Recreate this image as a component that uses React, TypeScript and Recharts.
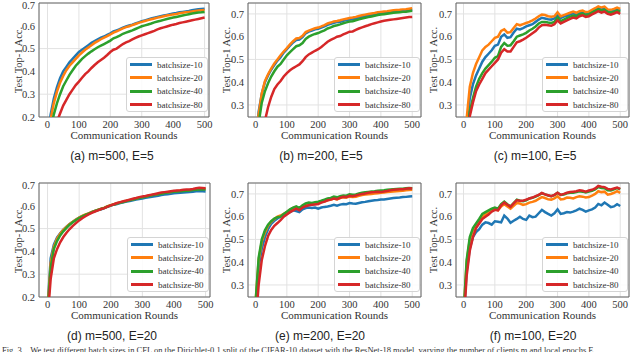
import {
  LineChart,
  Line,
  XAxis,
  YAxis,
  CartesianGrid,
  ReferenceArea,
  Legend,
} from "recharts";

// communication rounds sampled every 10
const ROUNDS = [
  0, 10, 20, 30, 40, 50, 60, 70, 80, 90,
  100, 110, 120, 130, 140, 150, 160, 170, 180, 190,
  200, 210, 220, 230, 240, 250, 260, 270, 280, 290,
  300, 310, 320, 330, 340, 350, 360, 370, 380, 390,
  400, 410, 420, 430, 440, 450, 460, 470, 480, 490,
  500,
];

const SERIES = ["batchsize-10", "batchsize-20", "batchsize-40", "batchsize-80"];
const COLORS = ["#1f77b4", "#ff7f0e", "#2ca02c", "#d62728"];
const X_TICKS = [0, 100, 200, 300, 400, 500];
const Y_TICKS_A = [0.2, 0.3, 0.4, 0.5, 0.6, 0.7];
const Y_TICKS_B = [0.3, 0.4, 0.5, 0.6, 0.7];

// (a) m=500, E=5
const a10 = [
  0.10, 0.21, 0.28, 0.33, 0.37, 0.40, 0.42, 0.44, 0.455, 0.47,
  0.485, 0.495, 0.505, 0.515, 0.525, 0.533, 0.541, 0.548, 0.553, 0.56,
  0.567, 0.575, 0.58, 0.585, 0.592, 0.597, 0.601, 0.605, 0.61, 0.615,
  0.62, 0.624, 0.628, 0.632, 0.636, 0.639, 0.642, 0.645, 0.648, 0.651,
  0.654, 0.656, 0.659, 0.661, 0.663, 0.665, 0.668, 0.671, 0.673, 0.674,
  0.675,
];
const a20 = [
  0.09, 0.19, 0.26, 0.31, 0.35, 0.38, 0.405, 0.425, 0.44, 0.455,
  0.47, 0.483, 0.495, 0.505, 0.515, 0.525, 0.533, 0.541, 0.548, 0.555,
  0.562, 0.57, 0.576, 0.582, 0.589, 0.594, 0.598, 0.603, 0.608, 0.613,
  0.617, 0.621, 0.625, 0.629, 0.632, 0.636, 0.639, 0.642, 0.645, 0.647,
  0.65, 0.652, 0.655, 0.657, 0.659, 0.661, 0.663, 0.665, 0.667, 0.668,
  0.669,
];
const a40 = [
  0.07, 0.15, 0.21, 0.26, 0.30, 0.335, 0.36, 0.385, 0.405, 0.425,
  0.44, 0.455, 0.467, 0.478, 0.488, 0.497, 0.506, 0.513, 0.52, 0.527,
  0.535, 0.545, 0.55, 0.557, 0.565, 0.57, 0.575, 0.58, 0.586, 0.592,
  0.598, 0.602, 0.606, 0.61, 0.615, 0.619, 0.622, 0.626, 0.63, 0.633,
  0.636, 0.639, 0.642, 0.645, 0.648, 0.651, 0.654, 0.656, 0.658, 0.659,
  0.661,
];
const a80 = [
  0.05, 0.10, 0.14, 0.18, 0.215, 0.25, 0.275, 0.30, 0.32, 0.34,
  0.355, 0.372, 0.388, 0.40, 0.415, 0.428, 0.44, 0.45, 0.46, 0.472,
  0.485, 0.495, 0.5, 0.51, 0.52, 0.527, 0.533, 0.54, 0.547, 0.553,
  0.558, 0.563, 0.568, 0.573, 0.578, 0.584, 0.589, 0.593, 0.597, 0.601,
  0.605, 0.608, 0.612, 0.615, 0.618, 0.621, 0.624, 0.627, 0.63, 0.633,
  0.636,
];

// (b) m=200, E=5
const b10 = [
  0.12, 0.27, 0.35, 0.40, 0.43, 0.455, 0.475, 0.495, 0.51, 0.53,
  0.545, 0.56, 0.575, 0.585, 0.587, 0.598, 0.615, 0.622, 0.627, 0.632,
  0.635, 0.64, 0.645, 0.652, 0.656, 0.661, 0.664, 0.666, 0.67, 0.673,
  0.675, 0.677, 0.68, 0.684, 0.688, 0.69, 0.693, 0.696, 0.698, 0.701,
  0.703, 0.705, 0.706, 0.708, 0.709, 0.71, 0.711, 0.713, 0.714, 0.716,
  0.718,
];
const b20 = [
  0.12, 0.26, 0.35, 0.405, 0.435, 0.46, 0.482, 0.5, 0.518, 0.535,
  0.55, 0.566, 0.58, 0.592, 0.594, 0.604, 0.62, 0.627, 0.632, 0.637,
  0.64, 0.645, 0.651, 0.658, 0.662, 0.667, 0.669, 0.672, 0.676, 0.679,
  0.682, 0.684, 0.687, 0.691, 0.694, 0.697, 0.7, 0.702, 0.704, 0.707,
  0.709, 0.711, 0.712, 0.714, 0.716, 0.717, 0.718, 0.72, 0.721, 0.723,
  0.725,
];
const b40 = [
  0.10, 0.22, 0.31, 0.36, 0.395, 0.425, 0.448, 0.468, 0.48, 0.5,
  0.518, 0.532, 0.545, 0.558, 0.562, 0.572, 0.59, 0.6, 0.607, 0.612,
  0.616, 0.622, 0.628, 0.636, 0.641, 0.647, 0.65, 0.654, 0.659, 0.663,
  0.667, 0.668, 0.672, 0.676, 0.68, 0.683, 0.686, 0.689, 0.692, 0.695,
  0.697, 0.699, 0.701, 0.703, 0.705, 0.706, 0.707, 0.709, 0.71, 0.712,
  0.714,
];
const b80 = [
  0.05, 0.10, 0.16, 0.23, 0.29, 0.335, 0.37, 0.39, 0.405, 0.425,
  0.44, 0.452, 0.462, 0.47, 0.478, 0.492, 0.51, 0.522, 0.53, 0.538,
  0.545, 0.555, 0.566, 0.578, 0.586, 0.592, 0.6, 0.603, 0.61, 0.616,
  0.622, 0.623, 0.63, 0.636, 0.641, 0.646, 0.65, 0.655, 0.659, 0.663,
  0.667, 0.67, 0.672, 0.674, 0.676, 0.678, 0.68, 0.682, 0.684, 0.686,
  0.687,
];

// (c) m=100, E=5
const c10 = [
  0.08, 0.20, 0.33, 0.39, 0.43, 0.46, 0.49, 0.51, 0.525, 0.54,
  0.56, 0.565, 0.60, 0.61, 0.595, 0.598, 0.618, 0.635, 0.632, 0.638,
  0.645, 0.65, 0.655, 0.665, 0.675, 0.683, 0.68, 0.677, 0.675, 0.68,
  0.698, 0.682, 0.688, 0.692, 0.698, 0.703, 0.698, 0.705, 0.708, 0.70,
  0.703, 0.71, 0.717, 0.725, 0.72, 0.722, 0.712, 0.71, 0.714, 0.72,
  0.714,
];
const c20 = [
  0.10, 0.24, 0.38, 0.44, 0.48, 0.51, 0.54, 0.555, 0.565, 0.58,
  0.595, 0.60, 0.625, 0.632, 0.618, 0.62, 0.638, 0.655, 0.65, 0.655,
  0.66, 0.665, 0.672, 0.68, 0.69, 0.697, 0.695, 0.69, 0.688, 0.69,
  0.707, 0.69, 0.695, 0.70, 0.705, 0.71, 0.705, 0.712, 0.715, 0.708,
  0.71, 0.718, 0.725, 0.733, 0.728, 0.732, 0.72, 0.718, 0.722, 0.728,
  0.722,
];
const c40 = [
  0.06, 0.16, 0.27, 0.33, 0.38, 0.415, 0.44, 0.46, 0.475, 0.49,
  0.507, 0.515, 0.555, 0.572, 0.56, 0.562, 0.58, 0.60, 0.605, 0.61,
  0.617, 0.627, 0.635, 0.645, 0.658, 0.665, 0.665, 0.662, 0.66, 0.665,
  0.685, 0.668, 0.675, 0.682, 0.688, 0.693, 0.69, 0.698, 0.702, 0.695,
  0.698, 0.706, 0.713, 0.72, 0.715, 0.718, 0.708, 0.705, 0.709, 0.715,
  0.709,
];
const c80 = [
  0.05, 0.14, 0.25, 0.31, 0.36, 0.39, 0.415, 0.44, 0.455, 0.47,
  0.485, 0.50, 0.53, 0.545, 0.535, 0.535, 0.555, 0.575, 0.58, 0.587,
  0.595, 0.605, 0.615, 0.625, 0.64, 0.65, 0.652, 0.65, 0.648, 0.655,
  0.672, 0.658, 0.665, 0.672, 0.678, 0.684, 0.68, 0.69, 0.694, 0.687,
  0.69, 0.698, 0.705, 0.712, 0.706, 0.71, 0.70, 0.697, 0.702, 0.708,
  0.70,
];

// (d) m=500, E=20
const d10 = [
  0.15, 0.37, 0.43, 0.46, 0.48, 0.495, 0.508, 0.52, 0.53, 0.54,
  0.548, 0.555, 0.56, 0.566, 0.572, 0.577, 0.582, 0.585, 0.59, 0.596,
  0.601, 0.605, 0.608, 0.612, 0.615, 0.619, 0.621, 0.624, 0.627, 0.63,
  0.632, 0.635, 0.637, 0.64, 0.642, 0.644, 0.647, 0.649, 0.651, 0.653,
  0.655, 0.656, 0.657, 0.658, 0.659, 0.66, 0.662, 0.664, 0.665, 0.664,
  0.663,
];
const d20 = [
  0.14, 0.35, 0.42, 0.455, 0.478, 0.494, 0.507, 0.52, 0.53, 0.54,
  0.548, 0.556, 0.562, 0.567, 0.573, 0.578, 0.583, 0.587, 0.592, 0.598,
  0.603, 0.607, 0.611, 0.615, 0.619, 0.622, 0.626, 0.629, 0.632, 0.635,
  0.638, 0.641, 0.644, 0.647, 0.65, 0.652, 0.655, 0.657, 0.659, 0.661,
  0.663, 0.665, 0.666, 0.667, 0.668, 0.669, 0.671, 0.673, 0.675, 0.675,
  0.675,
];
const d40 = [
  0.13, 0.33, 0.41, 0.445, 0.47, 0.488, 0.503, 0.517, 0.528, 0.538,
  0.546, 0.554, 0.56, 0.566, 0.572, 0.577, 0.582, 0.587, 0.591, 0.597,
  0.602, 0.606, 0.61, 0.614, 0.617, 0.621, 0.624, 0.628, 0.631, 0.634,
  0.637, 0.64, 0.643, 0.646, 0.649, 0.651, 0.653, 0.656, 0.658, 0.66,
  0.662, 0.663, 0.664, 0.665, 0.666, 0.667, 0.669, 0.67, 0.672, 0.672,
  0.672,
];
const d80 = [
  0.10, 0.28, 0.37, 0.41, 0.44, 0.463, 0.482, 0.498, 0.512, 0.524,
  0.536, 0.546, 0.554, 0.562, 0.569, 0.575, 0.58, 0.586, 0.59, 0.596,
  0.602, 0.607, 0.612, 0.616, 0.62, 0.623, 0.627, 0.631, 0.634, 0.638,
  0.641, 0.643, 0.646, 0.649, 0.652, 0.655, 0.658, 0.66, 0.662, 0.664,
  0.666, 0.667, 0.668, 0.67, 0.671, 0.672, 0.674, 0.677, 0.679, 0.678,
  0.677,
];

// (e) m=200, E=20
const e10 = [
  0.20, 0.38, 0.46, 0.51, 0.545, 0.568, 0.582, 0.592, 0.60, 0.607,
  0.615, 0.62, 0.628, 0.625, 0.62, 0.632, 0.638, 0.64, 0.638, 0.64,
  0.635, 0.64, 0.643, 0.645, 0.648, 0.652, 0.648, 0.653, 0.656, 0.655,
  0.66, 0.658, 0.657, 0.66, 0.663, 0.665, 0.668, 0.67, 0.672, 0.673,
  0.675, 0.676, 0.678, 0.68, 0.682, 0.683, 0.684, 0.686, 0.687, 0.689,
  0.69,
];
const e20 = [
  0.22, 0.41, 0.49, 0.53, 0.56, 0.578, 0.59, 0.60, 0.605, 0.612,
  0.62, 0.63, 0.638, 0.642, 0.635, 0.645, 0.652, 0.655, 0.655, 0.658,
  0.66, 0.664, 0.667, 0.672, 0.675, 0.68, 0.676, 0.682, 0.685, 0.684,
  0.688, 0.686, 0.688, 0.692, 0.695, 0.697, 0.699, 0.70, 0.702, 0.703,
  0.705, 0.706, 0.708, 0.71, 0.711, 0.712, 0.713, 0.714, 0.716, 0.717,
  0.718,
];
const e40 = [
  0.22, 0.42, 0.50, 0.54, 0.565, 0.58, 0.592, 0.598, 0.60, 0.612,
  0.622, 0.632, 0.64, 0.645, 0.638, 0.65, 0.658, 0.662, 0.66, 0.664,
  0.666, 0.67, 0.675, 0.68, 0.682, 0.688, 0.685, 0.69, 0.693, 0.692,
  0.698, 0.696, 0.698, 0.702, 0.705, 0.707, 0.709, 0.711, 0.712, 0.714,
  0.715, 0.716, 0.718, 0.72, 0.721, 0.722, 0.723, 0.723, 0.725, 0.726,
  0.725,
];
const e80 = [
  0.12, 0.30, 0.41, 0.47, 0.515, 0.542, 0.56, 0.572, 0.585, 0.60,
  0.61, 0.62, 0.628, 0.635, 0.628, 0.64, 0.646, 0.65, 0.652, 0.654,
  0.656, 0.662, 0.666, 0.672, 0.675, 0.68, 0.677, 0.683, 0.687, 0.686,
  0.692, 0.69, 0.693, 0.697, 0.70, 0.702, 0.705, 0.707, 0.708, 0.71,
  0.708, 0.711, 0.713, 0.716, 0.718, 0.719, 0.72, 0.721, 0.723, 0.725,
  0.724,
];

// (f) m=100, E=20
const f10 = [
  0.15, 0.36, 0.46, 0.51, 0.532, 0.545, 0.565, 0.575, 0.572, 0.565,
  0.58, 0.578, 0.575, 0.605, 0.592, 0.573, 0.582, 0.59, 0.60, 0.59,
  0.586, 0.605, 0.598, 0.60, 0.615, 0.63, 0.62, 0.612, 0.605, 0.615,
  0.632, 0.612, 0.615, 0.62, 0.618, 0.622, 0.628, 0.635, 0.63, 0.622,
  0.628, 0.632, 0.64, 0.656, 0.65, 0.662, 0.652, 0.642, 0.645, 0.655,
  0.647,
];
const f20 = [
  0.16, 0.40, 0.50, 0.54, 0.56, 0.578, 0.60, 0.61, 0.618, 0.625,
  0.632, 0.628, 0.645, 0.655, 0.645, 0.635, 0.648, 0.66, 0.658, 0.652,
  0.655, 0.662, 0.665, 0.67, 0.678, 0.686, 0.682, 0.676, 0.675, 0.68,
  0.69, 0.676, 0.678, 0.684, 0.683, 0.68, 0.686, 0.69, 0.688, 0.684,
  0.686, 0.692, 0.70, 0.712, 0.708, 0.71, 0.697, 0.70, 0.705, 0.712,
  0.705,
];
const f40 = [
  0.17, 0.41, 0.51, 0.55, 0.57, 0.59, 0.612, 0.62, 0.628, 0.635,
  0.64, 0.635, 0.655, 0.666, 0.655, 0.645, 0.66, 0.675, 0.67, 0.668,
  0.672, 0.68, 0.683, 0.688, 0.695, 0.703, 0.698, 0.693, 0.69, 0.695,
  0.705, 0.695, 0.697, 0.703, 0.705, 0.705, 0.708, 0.712, 0.71, 0.706,
  0.71, 0.714, 0.72, 0.73, 0.726, 0.725, 0.716, 0.715, 0.72, 0.726,
  0.72,
];
const f80 = [
  0.12, 0.34, 0.45, 0.51, 0.55, 0.57, 0.59, 0.60, 0.61, 0.622,
  0.63, 0.628, 0.65, 0.662, 0.652, 0.643, 0.658, 0.672, 0.67, 0.67,
  0.675, 0.68, 0.684, 0.69, 0.696, 0.704, 0.698, 0.694, 0.69, 0.696,
  0.705, 0.696, 0.70, 0.705, 0.708, 0.71, 0.712, 0.716, 0.714, 0.71,
  0.715, 0.718, 0.724, 0.735, 0.732, 0.73, 0.722, 0.72, 0.724, 0.728,
  0.722,
];

const SERIF = "'Liberation Serif', 'DejaVu Serif', serif";
const SANS = "'Liberation Sans', Arial, sans-serif";

function rows(s10: number[], s20: number[], s40: number[], s80: number[]) {
  return ROUNDS.map((r, i) => ({ round: r, s0: s10[i], s1: s20[i], s2: s40[i], s3: s80[i] }));
}

const PANELS = [
  { id: "a", title: "(a) m=500, E=5", data: rows(a10, a20, a40, a80), left: 39, top: 3, w: 170, h: 114, xd: [-27, 514], yd: [0.2, 0.7], yt: Y_TICKS_A, lw: 82, yl: 18, tx: 112, ty: 156 },
  { id: "b", title: "(b) m=200, E=5", data: rows(b10, b20, b40, b80), left: 248, top: 3, w: 173, h: 114, xd: [-24, 528], yd: [0.247, 0.748], yt: Y_TICKS_B, lw: 86, yl: 17, tx: 321, ty: 156 },
  { id: "c", title: "(c) m=100, E=5", data: rows(c10, c20, c40, c80), left: 456, top: 3, w: 173, h: 114, xd: [-24, 528], yd: [0.247, 0.748], yt: Y_TICKS_B, lw: 86, yl: 16, tx: 535, ty: 156 },
  { id: "d", title: "(d) m=500, E=20", data: rows(d10, d20, d40, d80), left: 39, top: 183, w: 171, h: 114, xd: [-27, 514], yd: [0.2, 0.7], yt: Y_TICKS_A, lw: 82, yl: 18, tx: 112, ty: 336 },
  { id: "e", title: "(e) m=200, E=20", data: rows(e10, e20, e40, e80), left: 248, top: 183, w: 173, h: 114, xd: [-24, 528], yd: [0.247, 0.748], yt: Y_TICKS_B, lw: 86, yl: 17, tx: 320, ty: 336 },
  { id: "f", title: "(f) m=100, E=20", data: rows(f10, f20, f40, f80), left: 456, top: 183, w: 173, h: 114, xd: [-24, 528], yd: [0.247, 0.748], yt: Y_TICKS_B, lw: 86, yl: 16, tx: 533, ty: 336 },
];

const YW = 39;
const MT = 3;
const MR = 4;
const XH = 28;

function LegendBox({ payload, width }: any) {
  return (
    <div
      style={{
        width,
        height: 55,
        boxSizing: "border-box",
        border: "1px solid #d4d4d4",
        borderRadius: 3,
        background: "rgba(255,255,255,0.85)",
        paddingLeft: 3,
        fontFamily: SERIF,
        fontSize: 9,
        fontWeight: 400,
        color: "#333",
      }}
    >
      {(payload || []).map((p: any) => (
        <div key={p.value} style={{ display: "flex", alignItems: "center", height: 13.3 }}>
          <span style={{ display: "inline-block", width: 22, height: 3, background: p.color, marginRight: 5 }} />
          <span>{p.value}</span>
        </div>
      ))}
    </div>
  );
}

function Panel({ p }: { p: (typeof PANELS)[number] }) {
  const chartLeft = p.left - YW;
  const chartTop = p.top - MT;
  const width = YW + p.w + MR;
  const height = MT + p.h + XH;
  const textStyle = { fontFamily: SERIF, fontWeight: 400, fill: "#333" };
  return (
    <>
      <div style={{ position: "absolute", left: chartLeft, top: chartTop }}>
        <LineChart width={width} height={height} data={p.data} margin={{ top: MT, right: MR, bottom: 0, left: 0 }}>
          <CartesianGrid stroke="#e2e2e2" strokeWidth={1} />
          <XAxis
            type="number"
            dataKey="round"
            domain={p.xd}
            allowDataOverflow
            ticks={X_TICKS}
            tickSize={0}
            tickMargin={4}
            axisLine={false}
            height={XH}
            tick={{ ...textStyle, fontSize: 10.5 }}
            label={{ value: "Communication Rounds", position: "insideBottom", offset: 6, style: { ...textStyle, fontSize: 11 } }}
          />
          <YAxis
            type="number"
            domain={p.yd}
            allowDataOverflow
            ticks={p.yt}
            tickSize={0}
            tickMargin={4}
            axisLine={false}
            width={YW}
            tickFormatter={(v: number) => v.toFixed(1)}
            tick={{ ...textStyle, fontSize: 10.5 }}
            label={{ value: "Test Top-1 Acc.", angle: -90, position: "insideLeft", offset: p.yl, style: { ...textStyle, textAnchor: "middle", fontSize: 10.5 } }}
          />
          <ReferenceArea x1={p.xd[0]} x2={p.xd[1]} y1={p.yd[0]} y2={p.yd[1]} fill="none" stroke="#666" strokeWidth={1} ifOverflow="visible" />
          {SERIES.map((name, i) => (
            <Line
              key={name}
              type="linear"
              dataKey={`s${i}`}
              name={name}
              stroke={COLORS[i]}
              strokeWidth={2.5}
              dot={false}
              isAnimationActive={false}
            />
          ))}
          <Legend
            layout="vertical"
            align="center"
            verticalAlign="middle"
            content={(props: any) => <LegendBox payload={props.payload} width={p.lw} />}
            wrapperStyle={{ left: YW + p.w - 1 - p.lw, top: MT + p.h - 5 - 55, width: p.lw, height: 55 }}
          />
        </LineChart>
      </div>
      <div
        style={{
          position: "absolute",
          left: p.tx - 100,
          top: p.ty - 8,
          width: 200,
          textAlign: "center",
          fontFamily: SANS,
          fontSize: 12,
          lineHeight: "16px",
          color: "#222",
        }}
      >
        {p.title}
      </div>
    </>
  );
}

export default function App() {
  return (
    <div
      style={{
        position: "absolute",
        left: 0,
        top: 0,
        width: 640,
        height: 352,
        overflow: "hidden",
        background: "#fff",
      }}
    >
      {PANELS.map((p) => (
        <Panel key={p.id} p={p} />
      ))}
      <div
        style={{
          position: "absolute",
          left: 2,
          top: 345,
          whiteSpace: "nowrap",
          fontFamily: SERIF,
          fontSize: 8.5,
          color: "#333",
        }}
      >
        Fig. 3.&nbsp;&nbsp; We test different batch sizes in CFL on the Dirichlet-0.1 split of the CIFAR-10 dataset with the ResNet-18 model, varying the number of clients m and local epochs E.
      </div>
    </div>
  );
}
